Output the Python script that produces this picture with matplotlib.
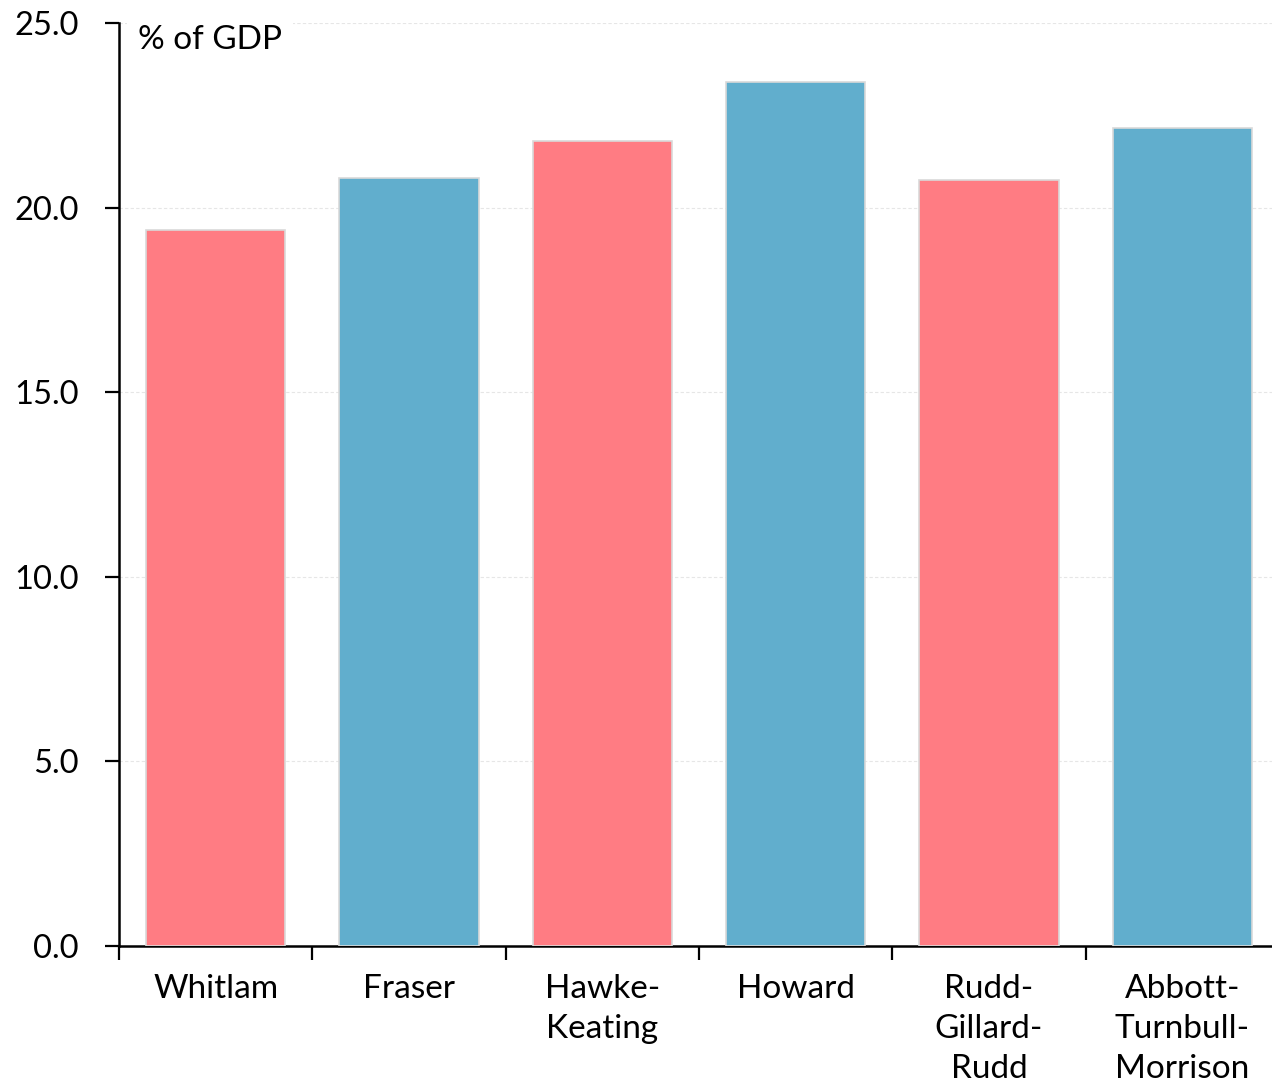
import matplotlib
matplotlib.use("Agg")
import matplotlib.pyplot as plt

# Spending by government, % of GDP
governments = ["Whitlam", "Fraser", "Hawke-\nKeating", "Howard",
               "Rudd-\nGillard-\nRudd", "Abbott-\nTurnbull-\nMorrison"]
share_of_gdp = [19.4, 20.8, 21.8, 23.4, 20.75, 22.15]
party = ["Labor", "Coalition", "Labor", "Coalition", "Labor", "Coalition"]
y_ticks = [0.0, 5.0, 10.0, 15.0, 20.0, 25.0]

party_colors = {"Labor": "#FF7C83", "Coalition": "#61AECD"}

plt.rcParams["font.family"] = ["Lato", "DejaVu Sans"]

W, H = 1272, 1082
fig = plt.figure(figsize=(W / 100, H / 100), dpi=100)
left, right, top, bottom = 119, 1279, 23, 946
ax = fig.add_axes([left / W, 1 - bottom / H, (right - left) / W, (bottom - top) / H])

x = list(range(len(governments)))
ax.bar(x, share_of_gdp, width=0.72,
       color=[party_colors[p] for p in party],
       edgecolor="#D9D9D9", linewidth=1.2, zorder=3)

ax.set_xlim(-0.5, len(governments) - 0.5)
ax.set_ylim(0, 25)
ax.set_yticks(y_ticks)
ax.set_yticklabels([f"{v:.1f}" for v in y_ticks])

# category labels centred, ticks on the category boundaries
ax.set_xticks(x)
ax.set_xticklabels(governments, linespacing=1.42)
ax.set_xticks([i - 0.5 for i in range(len(governments) + 1)], minor=True)
ax.tick_params(axis="x", which="major", length=0, pad=20, labelsize=24)
ax.tick_params(axis="x", which="minor", length=10, width=1.6, color="black")
ax.tick_params(axis="y", length=10, width=1.6, pad=19, labelsize=23.5)

ax.yaxis.grid(True, color="#E6E6E6", linestyle=(0, (3, 2)), linewidth=0.8, zorder=0)
ax.set_axisbelow(True)

for s in ["top", "right"]:
    ax.spines[s].set_visible(False)
for s in ["left", "bottom"]:
    ax.spines[s].set_linewidth(1.8)
    ax.spines[s].set_color("black")

# unit label with a white patch behind it
ax.text((138 - left) / (right - left), 1 - (40 - top) / (bottom - top), "% of GDP",
        transform=ax.transAxes, fontsize=24, va="center", ha="left", zorder=5,
        bbox=dict(facecolor="white", edgecolor="none", pad=8))

fig.savefig("out.png", dpi=100)
